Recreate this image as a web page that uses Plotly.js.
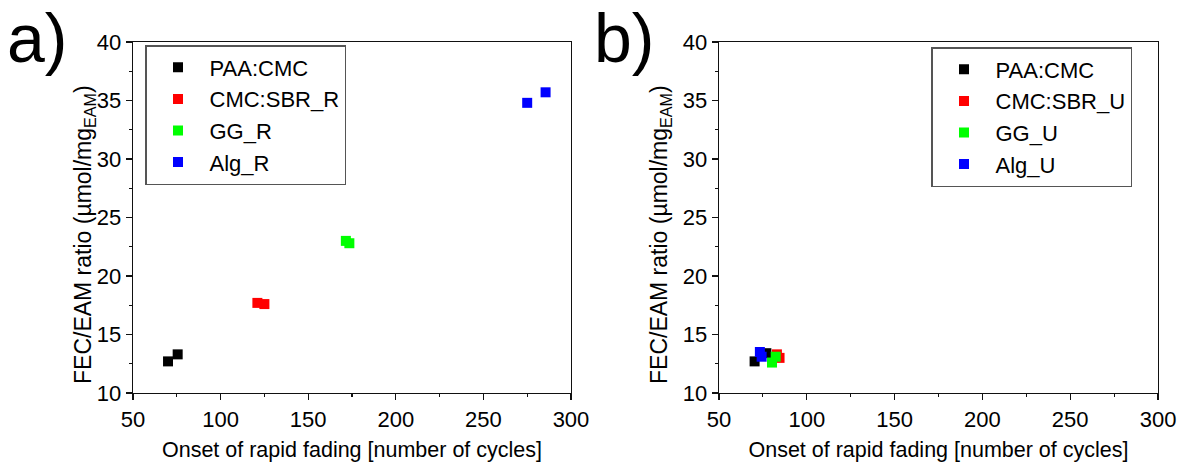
<!DOCTYPE html>
<html>
<head>
<meta charset="utf-8">
<script src="https://cdn.plot.ly/plotly-3.0.1.min.js"></script>
<style>html,body{margin:0;padding:0;background:#fff;}#chart{width:1179px;height:462px;}</style>
</head>
<body>
<div id="chart"></div>
<script>
// Panel a (R series)
var paaX_a = [70, 75.5];
var paaY_a = [12.7, 13.3];
var sbrX_a = [121, 125];
var sbrY_a = [17.7, 17.6];
var ggX_a = [171.5, 173.5];
var ggY_a = [23.0, 22.8];
var algX_a = [275, 285.5];
var algY_a = [34.8, 35.7];

// Panel b (U series)
var paaX_b = [70.3, 77];
var paaY_b = [12.7, 13.4];
var sbrX_b = [83, 84.5];
var sbrY_b = [13.3, 13.0];
var ggX_b = [82.3, 80.2];
var ggY_b = [13.1, 12.6];
var algX_b = [73.3, 74.3];
var algY_b = [13.5, 13.1];

var namesA = ['PAA:CMC', 'CMC:SBR_R', 'GG_R', 'Alg_R'];
var namesB = ['PAA:CMC', 'CMC:SBR_U', 'GG_U', 'Alg_U'];
var colors = ['#000000', '#ff0000', '#00ff00', '#0000ff'];

var xTicks = [50, 100, 150, 200, 250, 300];
var yTicks = [10, 15, 20, 25, 30, 35, 40];

var xTitle = 'Onset of rapid fading [number of cycles]';
var yTitle = 'FEC/EAM ratio (µmol/mg<sub>EAM</sub>)';

var font = 'Liberation Sans, Arial, sans-serif';

function tr(x, y, name, color, xa, ya, leg) {
  return {
    x: x, y: y, name: name, type: 'scatter', mode: 'markers',
    xaxis: xa, yaxis: ya, legend: leg,
    marker: {symbol: 'square', size: 10, color: color, line: {width: 0}}
  };
}

var data = [
  tr(paaX_a, paaY_a, namesA[0], colors[0], 'x', 'y', 'legend'),
  tr(sbrX_a, sbrY_a, namesA[1], colors[1], 'x', 'y', 'legend'),
  tr(ggX_a, ggY_a, namesA[2], colors[2], 'x', 'y', 'legend'),
  tr(algX_a, algY_a, namesA[3], colors[3], 'x', 'y', 'legend'),
  tr(paaX_b, paaY_b, namesB[0], colors[0], 'x2', 'y2', 'legend2'),
  tr(sbrX_b, sbrY_b, namesB[1], colors[1], 'x2', 'y2', 'legend2'),
  tr(ggX_b, ggY_b, namesB[2], colors[2], 'x2', 'y2', 'legend2'),
  tr(algX_b, algY_b, namesB[3], colors[3], 'x2', 'y2', 'legend2')
];

function xaxis(dom, anchor) {
  return {
    domain: dom, anchor: anchor, range: [50, 300],
    tickvals: xTicks, ticktext: xTicks.map(String),
    showline: true, mirror: true, linecolor: '#111', linewidth: 1.3,
    ticks: 'outside', ticklen: 6, tickwidth: 1.2, tickcolor: '#111',
    minor: {tickvals: [75, 125, 175, 225, 275], ticks: 'outside', ticklen: 3, tickwidth: 1.2, tickcolor: '#111'},
    showgrid: false, zeroline: false,
    tickfont: {family: font, size: 22, color: '#000'},
    title: {text: xTitle, font: {family: font, size: 21.5, color: '#000'}, standoff: 14}
  };
}
function yaxis(anchor) {
  return {
    domain: [0.1494, 0.9091], anchor: anchor, range: [10, 40],
    tickvals: yTicks, ticktext: yTicks.map(String),
    showline: true, mirror: true, linecolor: '#111', linewidth: 1.3,
    ticks: 'outside', ticklen: 6, tickwidth: 1.2, tickcolor: '#111',
    minor: {tickvals: [12.5, 17.5, 22.5, 27.5, 32.5, 37.5], ticks: 'outside', ticklen: 3, tickwidth: 1.2, tickcolor: '#111'},
    showgrid: false, zeroline: false,
    tickfont: {family: font, size: 22, color: '#000'}
  };
}

var legStyle = {
  font: {family: font, size: 22, color: '#000'},
  bgcolor: '#fff', bordercolor: '#555', borderwidth: 1.5,
  xanchor: 'left', yanchor: 'top', itemwidth: 53, tracegroupgap: 0,
  xref: 'paper', yref: 'paper'
};

function yTitleAnn(xpx) {
  return {text: yTitle, xref: 'paper', yref: 'paper', x: xpx / 1179, y: 1 - 235 / 462,
    xanchor: 'center', yanchor: 'middle', textangle: -90, showarrow: false,
    font: {family: font, size: 23, color: '#000'}};
}

var layout = {
  width: 1179, height: 462,
  margin: {l: 0, r: 0, t: 0, b: 0},
  paper_bgcolor: '#fff', plot_bgcolor: '#fff',
  showlegend: true,
  xaxis: xaxis([0.1128, 0.4843], 'y'),
  yaxis: yaxis('x'),
  xaxis2: xaxis([0.6098, 0.9822], 'y2'),
  yaxis2: yaxis('x2'),
  legend: Object.assign({}, legStyle, {x: 145/1179, y: 1 - 45/462}),
  legend2: Object.assign({}, legStyle, {x: 931/1179, y: 1 - 47/462}),
  annotations: [
    {text: 'a)', xref: 'paper', yref: 'paper', x: 0.004, y: 1.005, xanchor: 'left', yanchor: 'top', showarrow: false, font: {family: font, size: 68, color: '#000'}},
    {text: 'b)', xref: 'paper', yref: 'paper', x: 592/1179, y: 1.005, xanchor: 'left', yanchor: 'top', showarrow: false, font: {family: font, size: 68, color: '#000'}},
    yTitleAnn(84),
    yTitleAnn(660)
  ]
};

Plotly.newPlot('chart', data, layout, {staticPlot: true, displayModeBar: false});
</script>
</body>
</html>
